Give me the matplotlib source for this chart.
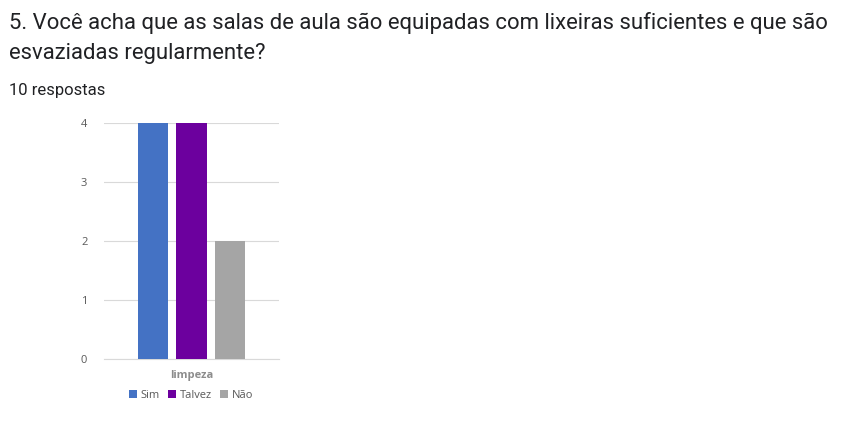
import matplotlib
matplotlib.use("Agg")
import matplotlib.pyplot as plt
from matplotlib.patches import Patch

title_lines = ["5. Você acha que as salas de aula são equipadas com lixeiras suficientes e que são",
               "esvaziadas regularmente?"]
subtitle = "10 respostas"
category = "limpeza"
series = ["Sim", "Talvez", "Não"]
values = [4, 4, 2]
colors = ["#4472C4", "#6C009E", "#A5A5A5"]
yticks = [0, 1, 2, 3, 4]

W, H = 861, 440
fig = plt.figure(figsize=(W / 100, H / 100), dpi=100)

def fx(px):
    return px / W

def fy(py):
    return 1 - py / H

fig.text(fx(9), fy(23), title_lines[0], fontsize=15.9, family="Roboto", color="#202124", va="center")
fig.text(fx(9), fy(54), title_lines[1], fontsize=15.9, family="Roboto", color="#202124", va="center")
fig.text(fx(9), fy(90), subtitle, fontsize=12, family="Roboto", color="#202124", va="center")

ax = fig.add_axes([fx(104), fy(359), fx(279) - fx(104), fy(123) - fy(359)])
offsets = [-0.22, 0.0, 0.22]
for off, v, c in zip(offsets, values, colors):
    ax.bar(off, v, width=0.177, color=c, zorder=3)
ax.set_xlim(-0.5, 0.5)
ax.set_ylim(0, 4)
ax.set_yticks(yticks)
ax.set_yticklabels([str(t) for t in yticks], fontsize=8, color="#595959", family="Open Sans")
ax.set_xticks([0])
ax.set_xticklabels([category], fontsize=8, color="#8C8C8C", family="Open Sans", fontweight="bold")
ax.tick_params(axis="y", length=0, pad=12)
ax.tick_params(axis="x", length=0, pad=8)
ax.grid(axis="y", color="#D9D9D9", linewidth=0.8, zorder=0)
for s in ["top", "right", "left"]:
    ax.spines[s].set_visible(False)
ax.spines["bottom"].set_color("#D9D9D9")
ax.spines["bottom"].set_linewidth(0.8)

handles = [Patch(facecolor=c, label=s) for s, c in zip(series, colors)]
fig.legend(handles=handles, loc="center", bbox_to_anchor=(fx(191), fy(395)), ncol=3,
           frameon=False, handlelength=0.7, handleheight=0.7,
           handletextpad=0.3, columnspacing=0.8,
           prop={"family": "Open Sans", "size": 8})
for t in fig.legends[0].get_texts():
    t.set_color("#595959")

fig.savefig("out.png", dpi=100, facecolor="white")
